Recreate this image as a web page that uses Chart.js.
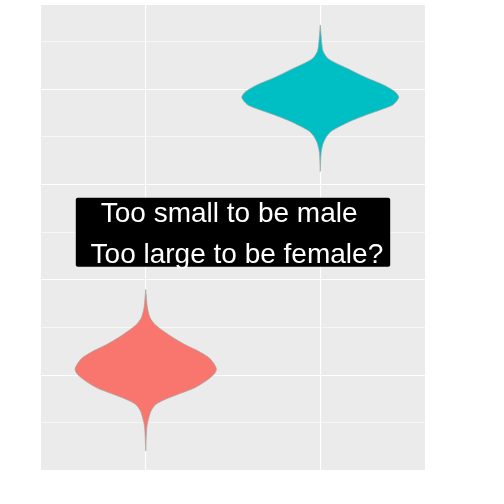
<!DOCTYPE html>
<html>
<head>
<meta charset="utf-8">
<script src="https://cdn.jsdelivr.net/npm/chart.js@4/dist/chart.umd.min.js"></script>
<style>
  html, body { margin: 0; padding: 0; background: #ffffff; }
  #c { display: block; }
</style>
</head>
<body>
<canvas id="c" width="504" height="504"></canvas>
<script>
// ---- data ----
const categories = ['female', 'male'];
const categoryPos = [1, 2];

// female violin: y levels (top to bottom) and half widths (x units)
const femaleY = [18.98, 17.06, 16.01, 15.31, 14.62, 13.91, 13.21, 12.52, 11.81, 11.11, 10.59, 10.06, 9.37, 8.67, 7.96, 7.44, 6.92, 6.22, 5.34, 4.47, 2.03];
const femaleHalfWidth = [0, 0.0097, 0.025, 0.053, 0.101, 0.158, 0.224, 0.301, 0.363, 0.394, 0.405, 0.390, 0.344, 0.281, 0.182, 0.110, 0.057, 0.030, 0.015, 0.006, 0];

// male violin
const maleY = [46.75, 44.65, 43.95, 43.25, 42.73, 42.20, 41.68, 41.15, 40.45, 39.75, 39.14, 38.35, 37.83, 37.30, 36.60, 36.08, 35.55, 35.03, 34.34, 33.63, 33.11, 31.36];
const maleHalfWidth = [0, 0.0097, 0.017, 0.042, 0.091, 0.153, 0.210, 0.272, 0.363, 0.427, 0.450, 0.415, 0.344, 0.262, 0.167, 0.110, 0.060, 0.036, 0.017, 0.0075, 0.004, 0];

const majorY = [10, 20, 30, 40];
const minorY = [5, 15, 25, 35, 45];
const yMin = 0.04, yMax = 48.84;
const xMin = 0.4, xMax = 2.6;

const labelLines = ['Too small to be male ', ' Too large to be female?'];
const labelX = 1.5;
const labelY = 25;

const colors = ['#F8766D', '#00BFC4'];

// ---- build violin outlines from the arrays ----
function violinPoints(center, ys, hw) {
  const pts = [];
  for (let i = 0; i < ys.length; i++) pts.push({ x: center + hw[i], y: ys[i] });
  for (let i = ys.length - 1; i >= 0; i--) pts.push({ x: center - hw[i], y: ys[i] });
  return pts;
}

const violins = [
  { y: femaleY, w: femaleHalfWidth },
  { y: maleY, w: maleHalfWidth }
];

const datasets = categories.map((cat, i) => ({
  label: cat,
  data: violinPoints(categoryPos[i], violins[i].y, violins[i].w),
  showLine: true,
  fill: 'shape',
  backgroundColor: colors[i],
  borderColor: 'rgba(165,165,165,0.7)',
  borderWidth: 1,
  pointRadius: 0,
  tension: 0.25
}));

const panelBg = {
  id: 'panelBg',
  beforeDraw(chart) {
    const { ctx, chartArea: a } = chart;
    ctx.save();
    ctx.fillStyle = '#EBEBEB';
    ctx.fillRect(a.left, a.top, a.right - a.left, a.bottom - a.top);
    ctx.restore();
  }
};

const labelPlugin = {
  id: 'labelPlugin',
  afterDatasetsDraw(chart) {
    const { ctx } = chart;
    const cx = chart.scales.x.getPixelForValue(labelX);
    const cy = chart.scales.y.getPixelForValue(labelY);
    ctx.save();
    ctx.font = '28px "Liberation Sans", Arial, sans-serif';
    const w = Math.max(...labelLines.map(t => ctx.measureText(t).width));
    const bw = w + 14, bh = 69;
    const left = cx - bw / 2, top = cy - bh / 2;
    ctx.fillStyle = '#000000';
    ctx.beginPath();
    if (ctx.roundRect) ctx.roundRect(left, top, bw, bh, 2); else ctx.rect(left, top, bw, bh);
    ctx.fill();
    ctx.fillStyle = '#FFFFFF';
    ctx.textAlign = 'center';
    ctx.textBaseline = 'alphabetic';
    ctx.fillText(labelLines[0], cx, cy - 10);
    ctx.fillText(labelLines[1], cx, cy + 30.5);
    ctx.restore();
  }
};

new Chart(document.getElementById('c'), {
  type: 'scatter',
  data: { datasets },
  options: {
    responsive: false,
    animation: false,
    layout: { padding: { left: 41, right: 79, top: 5, bottom: 34 } },
    plugins: { legend: { display: false }, tooltip: { enabled: false } },
    scales: {
      x: {
        type: 'linear',
        min: xMin, max: xMax,
        afterBuildTicks: s => { s.ticks = categoryPos.map(v => ({ value: v })); },
        ticks: { display: false },
        border: { display: false },
        grid: { color: '#FFFFFF', lineWidth: 1.1, drawTicks: false }
      },
      y: {
        type: 'linear',
        min: yMin, max: yMax,
        afterBuildTicks: s => {
          s.ticks = majorY.concat(minorY).sort((a, b) => a - b).map(v => ({ value: v }));
        },
        ticks: { display: false },
        border: { display: false },
        grid: {
          color: '#FFFFFF',
          drawTicks: false,
          lineWidth: ctx => (majorY.includes(ctx.tick.value) ? 1.1 : 0.55)
        }
      }
    }
  },
  plugins: [panelBg, labelPlugin]
});
</script>
</body>
</html>
